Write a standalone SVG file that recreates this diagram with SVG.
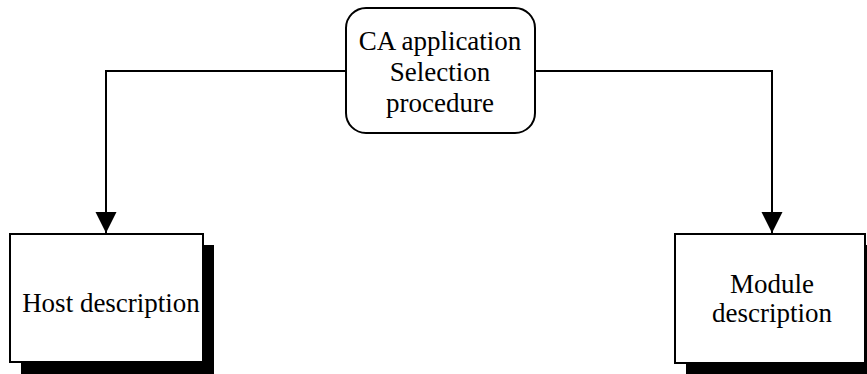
<svg xmlns="http://www.w3.org/2000/svg" width="867" height="374" viewBox="0 0 867 374">
  <style>
    .box { fill: #ffffff; stroke: #000000; stroke-width: 2; }
    .shadow { fill: #000000; }
    .label { font-family: "Liberation Serif", "Times New Roman", serif; font-size: 27px; fill: #000000; text-anchor: middle; }
    .wire { fill: none; stroke: #000000; stroke-width: 2; }
  </style>
  <defs>
    <marker id="arrow" markerUnits="userSpaceOnUse" markerWidth="22" markerHeight="22" refX="21" refY="10.5" orient="auto">
      <path d="M0,0 L21,10.5 L0,21 Z" fill="#000000"/>
    </marker>
  </defs>
  <rect width="867" height="374" fill="#ffffff"/>

  <g id="connectors">
    <path class="wire" d="M346,71 H106 V233" marker-end="url(#arrow)"/>
    <path class="wire" d="M535,71 H772 V233" marker-end="url(#arrow)"/>
  </g>

  <g id="selection">
    <rect class="box" x="346" y="8" width="189" height="125" rx="20" ry="20"/>
    <text class="label" x="440" y="50">CA application</text>
    <text class="label" x="440" y="81">Selection</text>
    <text class="label" x="440" y="112">procedure</text>
  </g>

  <g id="host">
    <rect class="shadow" x="21" y="245" width="193" height="129"/>
    <rect class="box" x="10" y="234" width="193" height="128"/>
    <text class="label" x="111" y="312">Host description</text>
  </g>

  <g id="module">
    <rect class="shadow" x="686" y="245" width="181" height="129"/>
    <rect class="box" x="675" y="234" width="190" height="129"/>
    <text class="label" x="772" y="293">Module</text>
    <text class="label" x="772" y="322">description</text>
  </g>
</svg>
